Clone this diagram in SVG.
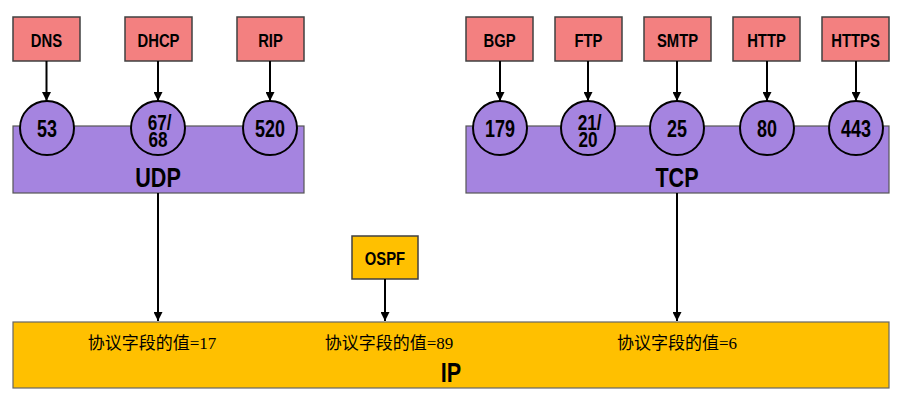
<svg xmlns="http://www.w3.org/2000/svg" width="899" height="417" viewBox="0 0 899 417">
<defs>
<marker id="ah" viewBox="0 0 10 10" refX="10" refY="5" markerWidth="4.5" markerHeight="4.5" orient="auto" markerUnits="strokeWidth">
<path d="M0,0 L10,5 L0,10 z" fill="#000"/>
</marker>
<style>
.app{fill:#F38080;stroke:#404040;stroke-width:1.5}
.ospf{fill:#FFC000;stroke:#404040;stroke-width:1.5}
.tp{fill:#A584E0;stroke:#555;stroke-width:1.2}
.ip{fill:#FFC000;stroke:#666;stroke-width:1.2}
.port{fill:#A584E0;stroke:#000;stroke-width:2}
.lb{font-family:"Liberation Sans",Arial,sans-serif;font-weight:bold;text-anchor:middle;fill:#000}
.s{font-size:19px}
.n{font-size:23px}
.n2{font-size:22px}
.big{font-size:27px}
.cn{font-family:"Liberation Serif","Noto Sans CJK SC",serif;font-size:17px;text-anchor:middle;fill:#000}
.ar{stroke:#000;stroke-width:2;fill:none;marker-end:url(#ah)}
</style>
</defs>
<g id="ip"><rect class="ip" x="13" y="322" width="876" height="66"/><text class="lb big" transform="translate(451,382) scale(0.8,1)">IP</text>
<text class="cn" x="152" y="349">协议字段的值=17</text>
<text class="cn" x="389" y="349">协议字段的值=89</text>
<text class="cn" x="677" y="349">协议字段的值=6</text></g>
<g id="udp"><rect class="tp" x="13" y="126" width="291" height="67"/><text class="lb big" transform="translate(158,187) scale(0.8,1)">UDP</text></g>
<g id="tcp"><rect class="tp" x="466" y="126" width="423" height="67"/><text class="lb big" transform="translate(677,187) scale(0.8,1)">TCP</text></g>
<g id="dns"><rect class="app" x="13" y="17" width="67" height="44"/><text class="lb s" transform="translate(46.5,46.5) scale(0.78,1)">DNS</text></g>
<g id="dhcp"><rect class="app" x="125" y="17" width="67" height="44"/><text class="lb s" transform="translate(158.5,46.5) scale(0.78,1)">DHCP</text></g>
<g id="rip"><rect class="app" x="237" y="17" width="67" height="44"/><text class="lb s" transform="translate(270.5,46.5) scale(0.78,1)">RIP</text></g>
<g id="bgp"><rect class="app" x="466" y="17" width="67" height="44"/><text class="lb s" transform="translate(499.5,46.5) scale(0.78,1)">BGP</text></g>
<g id="ftp"><rect class="app" x="555" y="17" width="67" height="44"/><text class="lb s" transform="translate(588.5,46.5) scale(0.78,1)">FTP</text></g>
<g id="smtp"><rect class="app" x="644" y="17" width="67" height="44"/><text class="lb s" transform="translate(677.5,46.5) scale(0.78,1)">SMTP</text></g>
<g id="http"><rect class="app" x="733" y="17" width="67" height="44"/><text class="lb s" transform="translate(766.5,46.5) scale(0.78,1)">HTTP</text></g>
<g id="https"><rect class="app" x="822" y="17" width="67" height="44"/><text class="lb s" transform="translate(855.5,46.5) scale(0.78,1)">HTTPS</text></g>
<g id="ospf"><rect class="ospf" x="352" y="236" width="66" height="43"/><text class="lb s" transform="translate(385,264.5) scale(0.78,1)">OSPF</text></g>
<g id="p53"><circle class="port" cx="47" cy="128" r="27"/><text class="lb n" transform="translate(47,137) scale(0.78,1)">53</text></g>
<g id="p67"><circle class="port" cx="158" cy="128" r="27"/><text class="lb n2" transform="translate(158,129.5) scale(0.78,1)"><tspan x="2" y="0">67/</tspan><tspan x="0" y="17.5">68</tspan></text></g>
<g id="p520"><circle class="port" cx="270" cy="128" r="27"/><text class="lb n" transform="translate(270,137) scale(0.78,1)">520</text></g>
<g id="p179"><circle class="port" cx="500" cy="128" r="27"/><text class="lb n" transform="translate(500,137) scale(0.78,1)">179</text></g>
<g id="p21"><circle class="port" cx="588" cy="128" r="27"/><text class="lb n2" transform="translate(588,129.5) scale(0.78,1)"><tspan x="2" y="0">21/</tspan><tspan x="0" y="17.5">20</tspan></text></g>
<g id="p25"><circle class="port" cx="677" cy="128" r="27"/><text class="lb n" transform="translate(677,137) scale(0.78,1)">25</text></g>
<g id="p80"><circle class="port" cx="767" cy="128" r="27"/><text class="lb n" transform="translate(767,137) scale(0.78,1)">80</text></g>
<g id="p443"><circle class="port" cx="856" cy="128" r="27"/><text class="lb n" transform="translate(856,137) scale(0.78,1)">443</text></g>
<g id="connectors">
<line class="ar" x1="46.5" y1="61" x2="46.5" y2="101"/>
<line class="ar" x1="158" y1="61" x2="158" y2="101"/>
<line class="ar" x1="270" y1="61" x2="270" y2="101"/>
<line class="ar" x1="500" y1="61" x2="500" y2="101"/>
<line class="ar" x1="588" y1="61" x2="588" y2="101"/>
<line class="ar" x1="677" y1="61" x2="677" y2="101"/>
<line class="ar" x1="767" y1="61" x2="767" y2="101"/>
<line class="ar" x1="856" y1="61" x2="856" y2="101"/>
<line class="ar" x1="158" y1="193" x2="158" y2="321"/>
<line class="ar" x1="385" y1="279" x2="385" y2="321"/>
<line class="ar" x1="677" y1="193" x2="677" y2="321"/>
</g>
</svg>
